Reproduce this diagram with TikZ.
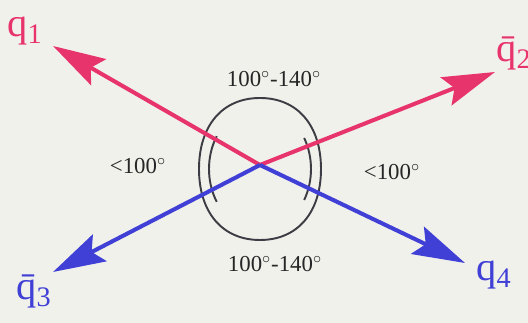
\documentclass[tikz,border=0pt]{standalone}
\usepackage{fontspec}
\setmainfont{Liberation Serif}
\usepackage{xcolor}
\usepackage{tikz}
\usetikzlibrary{
	arrows.meta
}

\definecolor{quarkred}{RGB}{232,52,108}
\definecolor{quarkblue}{RGB}{64,64,214}
\definecolor{bggray}{RGB}{241,241,236}
\definecolor{ringgray}{RGB}{60,60,68}

\begin{document}
\begin{tikzpicture}[x=0.02cm, y=-0.02cm,
	quark/.style={line width=2.3pt, -{Stealth[length=1.05cm, width=0.6cm, inset=0.18cm]}},
	ring/.style={ringgray, line width=1.1pt},
	qlabel/.style={font=\fontsize{23}{26}\selectfont},
	anglabel/.style={text=black!85, font=\fontsize{13}{15}\selectfont}]
	% 背景
	\fill[bggray] (0,0) rectangle (528,323);
	\useasboundingbox (0,0) rectangle (528,323);
	
	% 命名点
	\coordinate (c) at (260,165);
	\coordinate (t1) at (53,46);
	\coordinate (t2) at (495,72);
	\coordinate (t3) at (53,272);
	\coordinate (t4) at (465,263);
	
	% 外圈
	\draw[ring] (199,169) .. controls (199,126) and (222,98) .. (260,98)
		.. controls (298,98) and (321,126) .. (321,169)
		.. controls (321,212) and (298,240) .. (260,240)
		.. controls (222,240) and (199,212) .. cycle;
	% 内弧
	\draw[ring] ([shift={(260,169)}]148:51 and 62) arc[start angle=148, end angle=212, x radius=51, y radius=62];
	\draw[ring] ([shift={(260,169)}]-30:51 and 62) arc[start angle=-30, end angle=30, x radius=51, y radius=62];
	
	% 批量画箭头
	\foreach \t/\c in {t1/quarkred,t2/quarkred,t3/quarkblue,t4/quarkblue}
	\draw[quark, \c] (c) -- (\t);
	
	% 标记夸克
	\node[qlabel, quarkred, anchor=base west, inner sep=0pt] (q1) at (7,37) {q\textsubscript{1}};
	\node[qlabel, quarkred, anchor=base west, inner sep=0pt] (q2) at (496,62) {\=q\textsubscript{2}};
	\node[qlabel, quarkblue, anchor=base west, inner sep=0pt] (q3) at (16,300) {\=q\textsubscript{3}};
	\node[qlabel, quarkblue, anchor=base west, inner sep=0pt] (q4) at (476,281) {q\textsubscript{4}};
	
	% 角度
	\node[anglabel] (top) at (274,79) {100$^\circ$-140$^\circ$};
	\node[anglabel] (bottom) at (275,264) {100$^\circ$-140$^\circ$};
	\node[anglabel] (left) at (138,166) {<100$^\circ$};
	\node[anglabel] (right) at (392,172) {<100$^\circ$};
\end{tikzpicture}
\end{document}
